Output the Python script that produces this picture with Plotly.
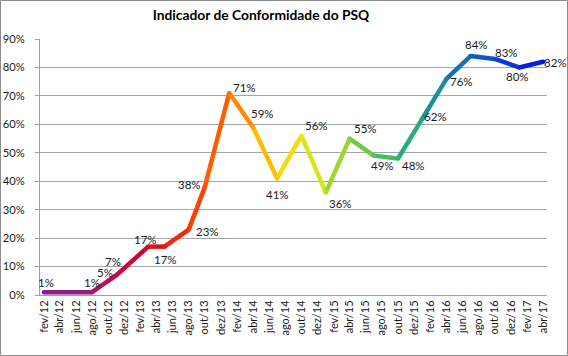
import plotly.graph_objects as go
from datetime import date

# ---------------- data ----------------
point_dates = ["2012-02-01", "2012-08-01", "2012-10-01", "2012-11-01", "2013-03-01",
               "2013-05-01", "2013-08-01", "2013-10-01", "2014-01-01", "2014-04-01",
               "2014-07-01", "2014-10-01", "2015-01-01", "2015-04-01", "2015-07-01",
               "2015-10-01", "2016-01-01", "2016-04-01", "2016-07-01", "2016-10-01",
               "2017-01-01", "2017-04-01"]
conformidade = [0.01, 0.01, 0.05, 0.07, 0.17, 0.17, 0.23, 0.38, 0.71, 0.59, 0.41,
                0.56, 0.36, 0.55, 0.49, 0.48, 0.62, 0.76, 0.84, 0.83, 0.80, 0.82]

tick_dates = ["2012-02-01", "2012-04-01", "2012-06-01", "2012-08-01", "2012-10-01", "2012-12-01",
              "2013-02-01", "2013-04-01", "2013-06-01", "2013-08-01", "2013-10-01", "2013-12-01",
              "2014-02-01", "2014-04-01", "2014-06-01", "2014-08-01", "2014-10-01", "2014-12-01",
              "2015-02-01", "2015-04-01", "2015-06-01", "2015-08-01", "2015-10-01", "2015-12-01",
              "2016-02-01", "2016-04-01", "2016-06-01", "2016-08-01", "2016-10-01", "2016-12-01",
              "2017-02-01", "2017-04-01"]
tick_labels = ["fev/12", "abr/12", "jun/12", "ago/12", "out/12", "dez/12",
               "fev/13", "abr/13", "jun/13", "ago/13", "out/13", "dez/13",
               "fev/14", "abr/14", "jun/14", "ago/14", "out/14", "dez/14",
               "fev/15", "abr/15", "jun/15", "ago/15", "out/15", "dez/15",
               "fev/16", "abr/16", "jun/16", "ago/16", "out/16", "dez/16",
               "fev/17", "abr/17"]

# ---------------- styles ----------------
# pixel offsets (dx, dy up) of each data label relative to its point
label_offsets = [(2, 10), (0, 10), (-3, 8), (-3, 14), (-3, 7),
                 (1, -13), (19, -2), (-15, 2), (15, 6), (9, 14),
                 (0, -16), (15, 10), (15, -11), (16, 10), (9, -10),
                 (15, -7), (13, 2), (15, -3), (6, 12), (12, 6),
                 (-2, -9), (12, -1)]

grad_stops = [
    (0.00, (112, 40, 160)),
    (0.10, (170, 20, 110)),
    (0.20, (215, 0, 40)),
    (0.30, (255, 60, 0)),
    (0.37, (255, 110, 0)),
    (0.45, (255, 195, 0)),
    (0.52, (240, 235, 20)),
    (0.60, (145, 210, 50)),
    (0.68, (70, 190, 90)),
    (0.76, (30, 160, 140)),
    (0.85, (20, 100, 190)),
    (1.00, (0, 20, 225)),
]
FONT = "Lato, Carlito, Calibri, sans-serif"


def grad(t):
    t = max(0.0, min(1.0, t))
    for (t0, c0), (t1, c1) in zip(grad_stops[:-1], grad_stops[1:]):
        if t0 <= t <= t1:
            f = (t - t0) / (t1 - t0) if t1 > t0 else 0
            c = [round(a + (b - a) * f) for a, b in zip(c0, c1)]
            return "rgb(%d,%d,%d)" % tuple(c)
    return "rgb(%d,%d,%d)" % grad_stops[-1][1]


def to_ord(s):
    y, m, d = map(int, s.split("-"))
    return date(y, m, d).toordinal()


d0, d1 = to_ord(point_dates[0]), to_ord(point_dates[-1])


def frac(s):
    return (to_ord(s) - d0) / (d1 - d0)


fig = go.Figure()

# one line segment per pair of consecutive points, coloured along the gradient
for i in range(len(point_dates) - 1):
    tm = (frac(point_dates[i]) + frac(point_dates[i + 1])) / 2
    fig.add_trace(go.Scatter(
        x=point_dates[i:i + 2], y=conformidade[i:i + 2], mode="lines",
        line=dict(color=grad(tm), width=4.5), hoverinfo="skip", showlegend=False))

# joints
fig.add_trace(go.Scatter(
    x=point_dates, y=conformidade, mode="markers",
    marker=dict(size=4.5, color=[grad(frac(d)) for d in point_dates]),
    showlegend=False, hoverinfo="x+y"))

# data labels
for d, v, (dx, dy) in zip(point_dates, conformidade, label_offsets):
    fig.add_annotation(x=d, y=v, xref="x", yref="y", text="%d%%" % round(v * 100),
                       showarrow=False, xanchor="center", yanchor="middle",
                       xshift=dx, yshift=dy,
                       font=dict(family=FONT, size=11.5, color="#1a1a1a"))

W, H = 568, 356
ml, mr, mt, mb = 40, 21, 39, 61
pw, ph = W - ml - mr, H - mt - mb

fig.update_layout(
    width=W, height=H, autosize=False,
    margin=dict(l=ml, r=mr, t=mt, b=mb, autoexpand=False),
    paper_bgcolor="white", plot_bgcolor="white",
    font=dict(family=FONT, color="#1a1a1a"),
    title=dict(text="<b>Indicador de Conformidade do PSQ</b>",
               x=261 / W, xanchor="center", y=1 - 15 / H, yanchor="middle",
               font=dict(size=13.8, color="#000000")),
    xaxis=dict(type="date", range=["2012-01-17", "2017-04-16"], automargin=False,
               tickmode="array", tickvals=tick_dates, ticktext=tick_labels,
               tickangle=-90, tickfont=dict(size=11, color="#1a1a1a"),
               showgrid=False, showline=True, linecolor="#a0a0a0", linewidth=1,
               ticks="", zeroline=False),
    yaxis=dict(range=[0, 0.9], dtick=0.1, tickformat=".0%", automargin=False,
               tickfont=dict(size=11.2, color="#1a1a1a"),
               showgrid=True, gridcolor="#a6a6a6", gridwidth=1,
               showline=True, linecolor="#a0a0a0", linewidth=1,
               ticks="outside", ticklen=4, tickcolor="#a0a0a0",
               ticklabelstandoff=8, zeroline=False),
)

# outer chart border
fig.add_shape(type="rect", xref="paper", yref="paper",
              x0=(0.5 - ml) / pw, x1=(W - 0.5 - ml) / pw,
              y0=-(mb - 0.5) / ph, y1=1 + (mt - 0.5) / ph,
              line=dict(color="#8c8c8c", width=1), fillcolor="rgba(0,0,0,0)", layer="below")

fig.write_html("out.html", config={"displayModeBar": False},
               post_script="document.body.style.margin='0';")
